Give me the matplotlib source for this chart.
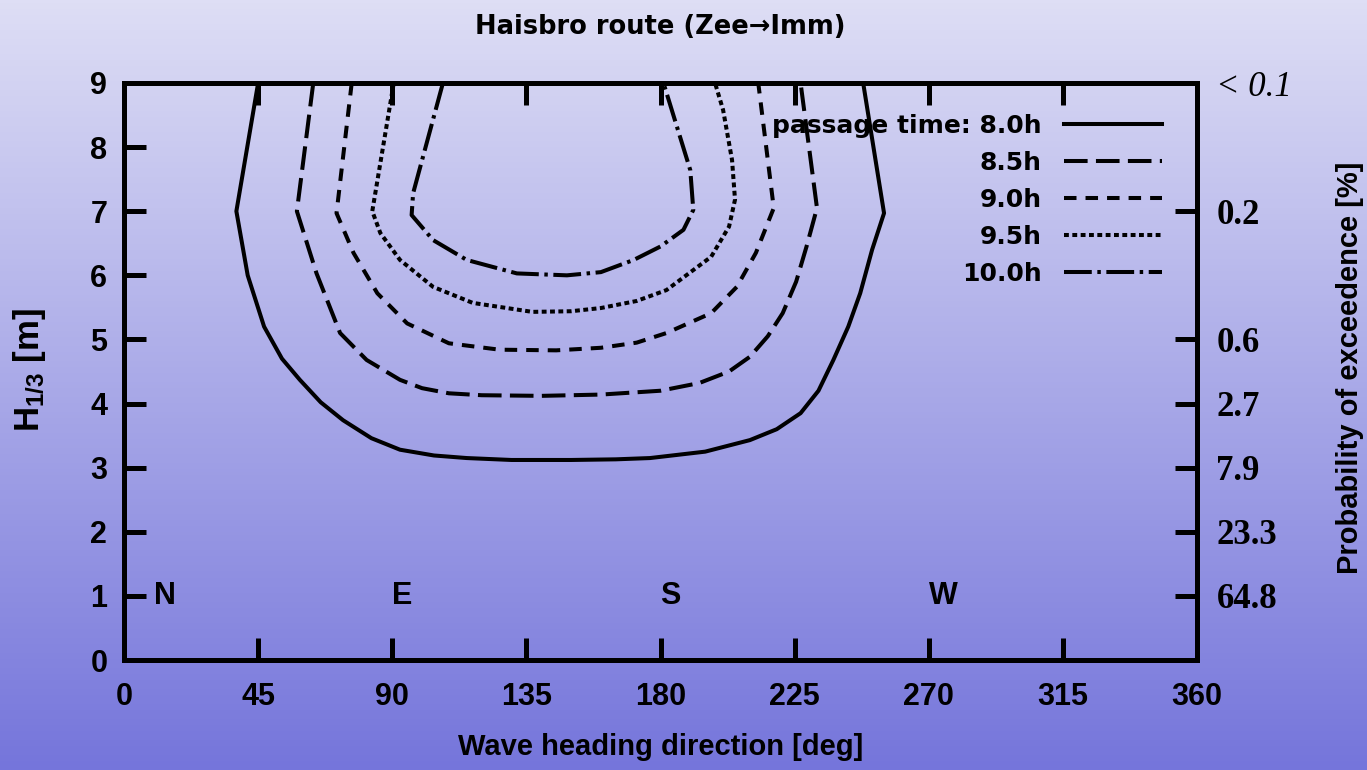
import numpy as np
import matplotlib
matplotlib.use("Agg")
import matplotlib.pyplot as plt
from matplotlib.colors import LinearSegmentedColormap

plt.rcParams['lines.scale_dashes'] = False
plt.rcParams['mathtext.fontset'] = 'custom'
plt.rcParams['mathtext.rm'] = 'Liberation Sans:bold'
plt.rcParams['mathtext.it'] = 'Liberation Sans:italic:bold'

# contour lines of constant passage time: heading [deg] vs H1/3 [m]
hdg_80 = [45, 37.7, 41.5, 47, 53, 59, 66, 73.5, 83, 92.6, 104, 115, 130, 150, 165, 176.5, 195, 210, 219, 227, 233, 238, 243, 247, 251, 255, 248]
hs_80 = [9, 7, 6.0, 5.2, 4.7, 4.37, 4.02, 3.74, 3.46, 3.28, 3.19, 3.15, 3.12, 3.12, 3.13, 3.15, 3.25, 3.43, 3.6, 3.85, 4.2, 4.68, 5.2, 5.72, 6.4, 6.97, 9]

hdg_85 = [63.5, 58, 64.6, 72.5, 81.4, 92.6, 100, 109, 120, 140, 160, 180, 193, 203, 210, 216, 221, 225.5, 229, 232.5, 227]
hs_85 = [9, 7, 6.03, 5.1, 4.68, 4.37, 4.24, 4.16, 4.13, 4.12, 4.14, 4.2, 4.32, 4.5, 4.73, 5.05, 5.41, 5.9, 6.45, 7.05, 9]

hdg_90 = [76.4, 71.3, 77, 85, 95, 109, 126, 145, 160, 172, 182, 197, 205.6, 212, 218, 212.8]
hs_90 = [9, 6.97, 6.35, 5.72, 5.25, 4.94, 4.84, 4.83, 4.87, 4.95, 5.1, 5.41, 5.82, 6.35, 7.05, 9]

hdg_95 = [90.5, 83.3, 86, 92.6, 103.7, 117, 137, 150, 160, 172, 182, 197, 203, 205, 204, 201, 198.3]
hs_95 = [9, 7.0, 6.66, 6.24, 5.82, 5.57, 5.43, 5.44, 5.49, 5.6, 5.77, 6.29, 6.76, 7.18, 7.8, 8.58, 9]

hdg_100 = [107, 97, 96.5, 103.7, 115, 131.8, 148.6, 160, 171, 180, 187.7, 191, 190, 185.5, 181]
hs_100 = [9, 7.28, 6.94, 6.55, 6.24, 6.03, 6.0, 6.05, 6.24, 6.45, 6.71, 7.02, 7.64, 8.32, 9]

labels = ['passage time: 8.0h', '8.5h', '9.0h', '9.5h', '10.0h']

x_ticks = [0, 45, 90, 135, 180, 225, 270, 315, 360]
y_ticks = [0, 1, 2, 3, 4, 5, 6, 7, 8, 9]
prob_ticks = [1, 2, 3, 4, 5, 7, 9]
prob_labels = ['64.8', '23.3', '7.9', '2.7', '0.6', '0.2', '< 0.1']

compass = ['N', 'E', 'S', 'W']
compass_pos = [10, 90, 180, 270]

fig = plt.figure(figsize=(13.67, 7.70), dpi=100)

# vertical gradient background
bg = fig.add_axes([0, 0, 1, 1], zorder=-10)
cmap = LinearSegmentedColormap.from_list('bg', ['#7575DB', '#DEDEF5'])
bg.imshow(np.linspace(0, 1, 256).reshape(-1, 1), aspect='auto', cmap=cmap,
          origin='lower', extent=[0, 1, 0, 1])
bg.axis('off')

ax = fig.add_axes([124/1367, 1-660/770, 1073/1367, 577/770])
ax.set_facecolor('none')

lw = 2.9
ax.plot(hdg_80, hs_80, color='k', lw=lw, ls='-', label=labels[0])
ax.plot(hdg_85, hs_85, color='k', lw=lw, ls=(0, (17, 6)), label=labels[1])
ax.plot(hdg_90, hs_90, color='k', lw=lw, ls=(0, (9, 6.5)), label=labels[2])
ax.plot(hdg_95, hs_95, color='k', lw=lw, ls=(0, (3.5, 2.5)), label=labels[3])
ax.plot(hdg_100, hs_100, color='k', lw=lw, ls=(0, (20, 4, 2.5, 4)), label=labels[4])

ax.set_xlim(0, 360)
ax.set_ylim(0, 9)
ax.set_xticks(x_ticks)
ax.set_yticks(y_ticks)

tickfont = {'family': 'Liberation Sans', 'weight': 'bold', 'size': 22}
ax.set_xticklabels([str(t) for t in x_ticks], fontdict=tickfont)
ax.set_yticklabels([str(t) for t in y_ticks], fontdict=tickfont)
ax.tick_params(direction='in', length=16, width=3.6, top=True, right=False)
ax.tick_params(axis='x', pad=16)
ax.tick_params(axis='y', pad=12)
for s in ax.spines.values():
    s.set_linewidth(3.6)

for lab, pos in zip(compass, compass_pos):
    ax.text(pos, 1, lab, ha='left', va='center', fontsize=22,
            family='Liberation Sans', weight='bold')

ax2 = ax.twinx()
ax2.set_ylim(0, 9)
ax2.set_yticks(prob_ticks)
ax2.set_yticklabels(prob_labels, family='Liberation Serif', weight='bold', size=25)
ax2.get_yticklabels()[-1].set_style('italic')
ax2.get_yticklabels()[-1].set_weight('normal')
ax2.tick_params(direction='in', length=16, width=3.6, pad=14)
for s in ax2.spines.values():
    s.set_linewidth(3.6)

labfont = {'family': 'Liberation Sans', 'weight': 'bold', 'size': 21}
ax.set_xlabel('Wave heading direction [deg]', fontdict=labfont)
ax.xaxis.set_label_coords(0.5, -0.127)
ax.set_ylabel(r'H$_{\mathit{1/3}}$ [m]', fontdict=dict(labfont, size=25), va='center')
ax.yaxis.set_label_coords(-0.088, 0.503)
ax2.set_ylabel('Probability of exceedence [%]', fontdict=labfont, va='center')
ax2.yaxis.set_label_coords(1.1426, 0.506)

fig.text(660.5/1367, 1-27/770, 'Haisbro route (Zee\u2192Imm)', ha='center', va='center',
         fontsize=18.5, weight='bold', family=['DejaVu Sans'])

leg = ax.legend(loc='upper right', bbox_to_anchor=(0.967, 0.947), frameon=False,
                markerfirst=False, handlelength=3.9, handletextpad=0.9,
                labelspacing=0.52, borderpad=0, borderaxespad=0,
                prop={'family': 'DejaVu Sans', 'weight': 'bold', 'size': 18})

fig.savefig('out.png', dpi=100)
